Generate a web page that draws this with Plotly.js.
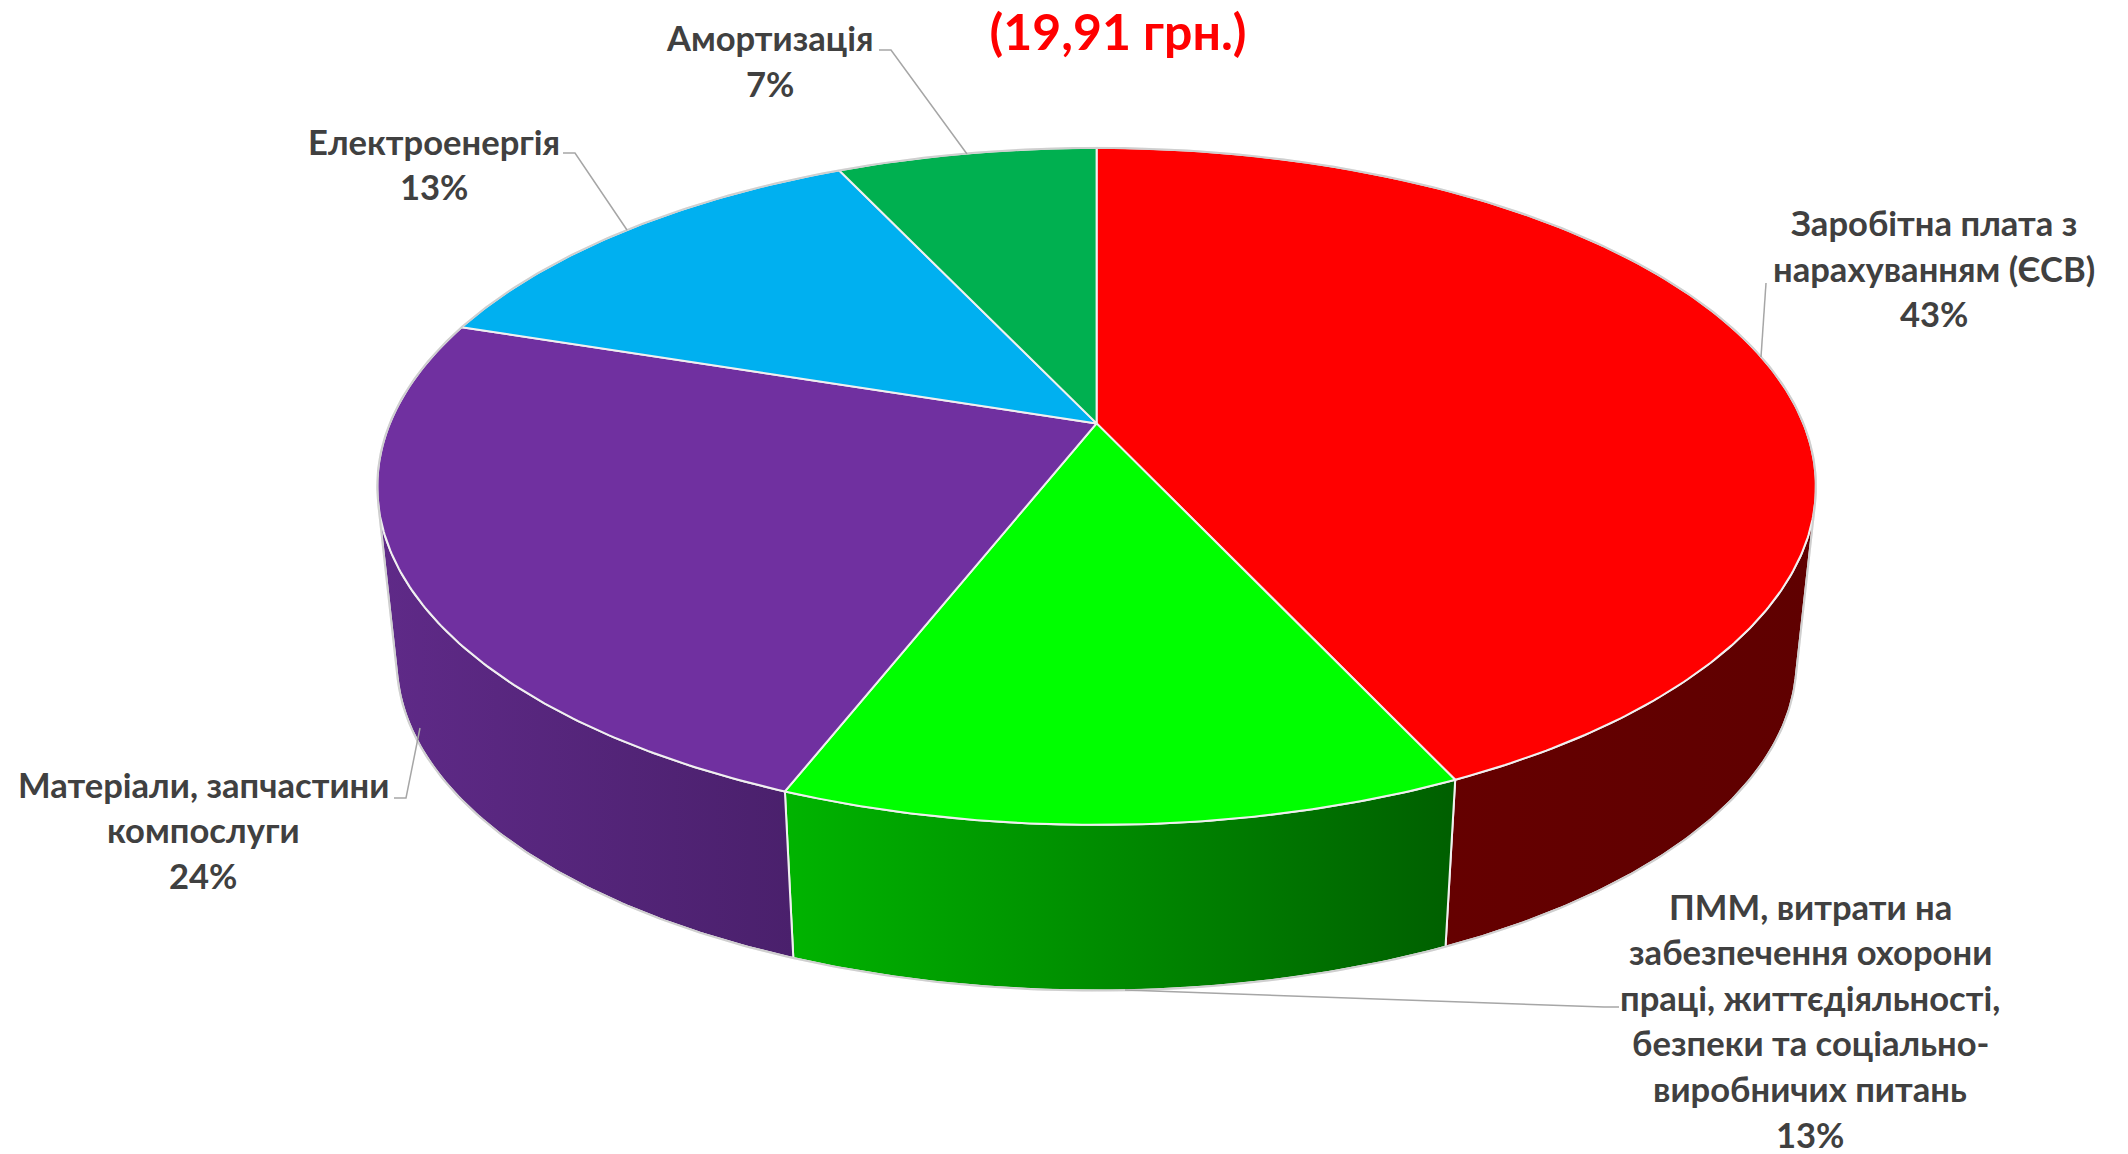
<!DOCTYPE html>
<html>
<head>
<meta charset="utf-8">
<script src="https://cdn.plot.ly/plotly-3.0.1.min.js"></script>
<style>html,body{margin:0;padding:0;background:#fff;overflow:hidden}</style>
</head>
<body>
<div id="chart" style="width:2128px;height:1154px"></div>
<script>
// ---- data ----
var categories = [
  "Заробітна плата з<br>нарахуванням (ЄСВ)",
  "ПММ, витрати на<br>забезпечення охорони<br>праці, життєдіяльності,<br>безпеки та соціально-<br>виробничих питань",
  "Матеріали, запчастини<br>компослуги",
  "Електроенергія",
  "Амортизація"
];
var shares = [43.07, 12.87, 24.10, 12.96, 7.00];
var chartTitle = "(19,91 грн.)";

// ---- styles ----
var topColors = ["#FF0000", "#00FF00", "#7030A0", "#00B0F0", "#00B050"];
var wallGradients = [
  ["#650000", "#5f0000"],
  ["#00B400", "#005F00"],
  ["#5F2A88", "#4A206C"],
  null,
  null
];
var innerEdge = "#F0F0F0";
var outerEdge = "#CFCFCF";
var leaderColor = "#A6A6A6";
var textColor = "#404040";
var fontFamily = "Lato, Carlito, 'Noto Sans', sans-serif";

// ---- label placement (pixel-valued axes) ----
var labelCentres = [[1934, 222.6], [1810, 906], [203, 784.3], [434, 141], [770, 37.6]];
var lineStep = 45.6;
var labelFontSize = 34.6;
var leaderPaths = [
  [[1766, 283], [1761, 357]],
  [[1619, 1007], [1604, 1007], [1125, 990]],
  [[394, 798], [406, 798], [420, 728]],
  [[563, 153], [575, 153], [627, 230]],
  [[879, 50], [891, 50], [967, 154]]
];

// ---- perspective projection of the tilted disc ----
var cx = 1096.6, cy = 423.4, a = 706.8, b = 326.8, k = 0.186;
var wallScale = 0.973, wallShift = 188;

function project(deg) {
  var t = deg * Math.PI / 180, u = Math.sin(t), v = Math.cos(t), w = 1 + k * v;
  return [cx + a * u / w, cy - b * v / w];
}
function lower(p) {
  return [cx + wallScale * (p[0] - cx), wallScale * p[1] + wallShift];
}
function arc(d1, d2) {
  var pts = [], n = Math.max(2, Math.ceil(Math.abs(d2 - d1) * 2));
  for (var i = 0; i <= n; i++) pts.push(project(d1 + (d2 - d1) * i / n));
  return pts;
}
function xs(p) { return p.map(function (q) { return q[0]; }); }
function ys(p) { return p.map(function (q) { return q[1]; }); }

// Front of the rim: the part where the wall faces the viewer.
function facesViewer(deg) {
  var p = project(deg), n = project(deg + 0.1), l = lower(p);
  return (n[0] - p[0]) * (l[1] - p[1]) - (n[1] - p[1]) * (l[0] - p[0]) < 0;
}
var frontStart = 0, frontEnd = 360;
for (var d = 0; d < 180; d += 0.1) { if (facesViewer(d)) { frontStart = d; break; } }
for (var e = 360; e > 180; e -= 0.1) { if (facesViewer(e)) { frontEnd = e; break; } }

var total = shares.reduce(function (s, v) { return s + v; }, 0);
var walls = [], tops = [], start = 0;
shares.forEach(function (val, i) {
  var end = start + 360 * val / total;
  var rim = arc(start, end);
  var slice = [[cx, cy]].concat(rim).concat([[cx, cy]]);
  tops.push({
    type: "scatter", mode: "lines", x: xs(slice), y: ys(slice),
    fill: "toself", fillcolor: topColors[i],
    line: { color: innerEdge, width: 2 }, hoverinfo: "skip", showlegend: false
  });
  var s = Math.max(start, frontStart), f = Math.min(end, frontEnd);
  if (wallGradients[i] && s < f) {
    var front = arc(s, f);
    var poly = front.concat(front.slice().reverse().map(lower));
    poly.push(poly[0]);
    walls.push({
      type: "scatter", mode: "lines", x: xs(poly), y: ys(poly),
      fill: "toself",
      fillgradient: { type: "horizontal", colorscale: [[0, wallGradients[i][0]], [1, wallGradients[i][1]]] },
      line: { color: innerEdge, width: 2 }, hoverinfo: "skip", showlegend: false
    });
  }
  start = end;
});

// Outer silhouette: back of the rim, then down the wall and along its base.
var outline = arc(frontEnd, 360 + frontStart).concat(arc(frontStart, frontEnd).map(lower));
outline.push(outline[0]);
var silhouette = {
  type: "scatter", mode: "lines", x: xs(outline), y: ys(outline),
  line: { color: outerEdge, width: 2 }, hoverinfo: "skip", showlegend: false
};

var annotations = [];
categories.forEach(function (name, i) {
  var lines = name.split("<br>").concat([Math.round(shares[i]) + "%"]);
  lines.forEach(function (line, j) {
    annotations.push({
      xref: "x", yref: "y", x: labelCentres[i][0], y: labelCentres[i][1] + j * lineStep,
      text: line, showarrow: false, xanchor: "center", yanchor: "middle",
      font: { family: fontFamily, size: labelFontSize, color: textColor, weight: 700 }
    });
  });
});

var shapes = leaderPaths.map(function (pts) {
  return {
    type: "path", xref: "x", yref: "y", layer: "above",
    path: pts.map(function (p, i) { return (i ? "L" : "M") + p[0] + "," + p[1]; }).join(" "),
    line: { color: leaderColor, width: 1.5 }
  };
});

var layout = {
  width: 2128, height: 1154,
  margin: { l: 0, r: 0, t: 0, b: 0 },
  paper_bgcolor: "#FFFFFF", plot_bgcolor: "#FFFFFF",
  showlegend: false, hovermode: false,
  title: {
    text: chartTitle, x: 1118 / 2128, xanchor: "center", y: 1 - 32 / 1154, yanchor: "middle",
    font: { family: fontFamily, size: 50, color: "#FF0000", weight: 700 }
  },
  xaxis: { range: [0, 2128], visible: false, fixedrange: true },
  yaxis: { range: [1154, 0], visible: false, fixedrange: true },
  annotations: annotations,
  shapes: shapes
};

Plotly.newPlot("chart", walls.concat(tops).concat([silhouette]), layout, { displayModeBar: false, staticPlot: true });
</script>
</body>
</html>
